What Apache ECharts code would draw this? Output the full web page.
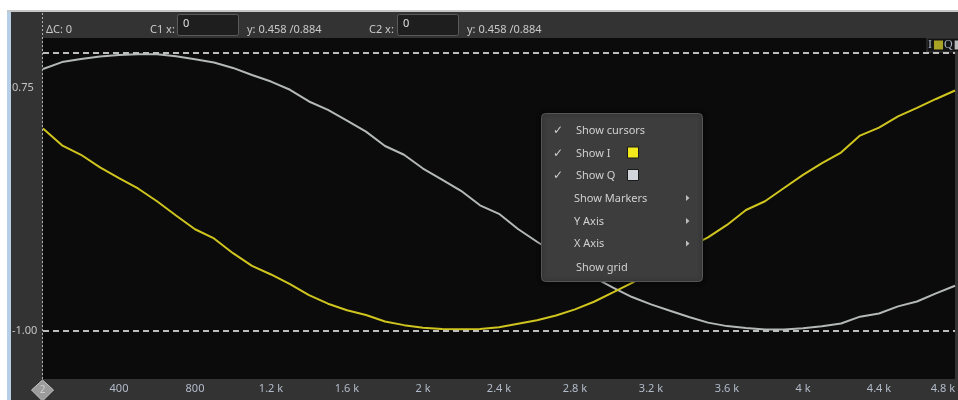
<!DOCTYPE html>
<html><head><meta charset="utf-8">
<script src="https://cdn.jsdelivr.net/npm/echarts@6/dist/echarts.min.js"></script>
<style>html,body{margin:0;padding:0;background:#fff;overflow:hidden}#c{width:958px;height:400px;}</style>
</head><body><div id="c"></div>
<script>
// ---- data ----
const sampleX = [0,100,200,300,400,500,600,700,800,900,1000,1100,1200,1300,1400,1500,1600,1700,1800,1900,2000,2100,2200,2300,2400,2500,2600,2700,2800,2900,3000,3100,3200,3300,3400,3500,3600,3700,3800,3900,4000,4100,4200,4300,4400,4500,4600,4700,4800];
const iValues = [0.455,0.334,0.266,0.176,0.099,0.024,-0.068,-0.170,-0.269,-0.335,-0.441,-0.532,-0.594,-0.663,-0.742,-0.804,-0.851,-0.885,-0.932,-0.958,-0.977,-0.986,-0.988,-0.986,-0.973,-0.948,-0.923,-0.889,-0.845,-0.790,-0.723,-0.655,-0.576,-0.490,-0.397,-0.328,-0.238,-0.131,-0.068,0.027,0.122,0.206,0.282,0.404,0.461,0.542,0.603,0.667,0.728];
const qValues = [0.882,0.932,0.954,0.972,0.983,0.988,0.988,0.974,0.953,0.929,0.890,0.839,0.792,0.733,0.649,0.588,0.512,0.432,0.329,0.266,0.167,0.088,0.007,-0.097,-0.158,-0.267,-0.359,-0.444,-0.529,-0.614,-0.688,-0.756,-0.809,-0.855,-0.900,-0.940,-0.965,-0.978,-0.989,-0.990,-0.981,-0.966,-0.946,-0.897,-0.874,-0.823,-0.788,-0.730,-0.675];
const seriesNames = ['I', 'Q'];
const xTickStep = 400;
const xMin = 0, xMax = 4800;
const yMin = -1.345, yMax = 1.105;
const yLabelValues = [0.75, -1.00];
const limitLines = [1, -1];
const cursorX = 0;
const headerTexts = { delta: 'ΔC: 0', c1: 'C1 x:', c2: 'C2 x:', c1Val: '0', c2Val: '0', c1Y: 'y: 0.458 /0.884', c2Y: 'y: 0.458 /0.884' };
const menuItems = [
  { text: 'Show cursors', check: true },
  { text: 'Show I', check: true, swatch: '#f2ea1c' },
  { text: 'Show Q', check: true, swatch: '#d2d6da' },
  { text: 'Show Markers', sub: true },
  { text: 'Y Axis', sub: true },
  { text: 'X Axis', sub: true },
  { text: 'Show grid' }
];

// ---- chart ----
const FONT = '"Segoe UI","Noto Sans","DejaVu Sans",sans-serif';
const chart = echarts.init(document.getElementById('c'), null, { renderer: 'canvas' });
const pairs = vals => sampleX.map((x, k) => [x, vals[k]]);

function fmtX(v) { return v >= 1000 ? (v / 1000) + ' k' : String(v); }

function staticGraphics() {
  const g = [];
  g.push({ type: 'rect', shape: { x: 0, y: 0, width: 958, height: 10 }, style: { fill: '#ffffff' } });
  g.push({ type: 'rect', shape: { x: 0, y: 0, width: 7, height: 400 }, style: { fill: '#ffffff' } });
  g.push({ type: 'rect', shape: { x: 7, y: 10, width: 951, height: 2 }, style: { fill: '#c6c6c6' } });
  g.push({ type: 'rect', shape: { x: 7, y: 12, width: 4, height: 388 }, style: { fill: '#b7cfe6' } });
  const txt = (t, x, y, z, extra) => ({ type: 'text', z: z, style: Object.assign({ text: t, x: x, y: y, fill: '#c9c9c9', font: '11px ' + FONT, verticalAlign: 'middle' }, extra || {}) });
  g.push(txt(headerTexts.delta, 46, 30, 50));
  g.push(txt(headerTexts.c1, 150, 30, 50));
  g.push({ type: 'rect', z: 50, shape: { x: 177.5, y: 14.5, width: 61, height: 21, r: 2 }, style: { fill: '#1e1e1e', stroke: '#5a5a5a', lineWidth: 1 } });
  g.push(txt(headerTexts.c1Val, 183, 23.5, 51, { fill: '#e0e0e0' }));
  g.push(txt(headerTexts.c1Y, 247, 30, 50));
  g.push(txt(headerTexts.c2, 369, 30, 50));
  g.push({ type: 'rect', z: 50, shape: { x: 397.5, y: 14.5, width: 61, height: 21, r: 2 }, style: { fill: '#1e1e1e', stroke: '#5a5a5a', lineWidth: 1 } });
  g.push(txt(headerTexts.c2Val, 403, 23.5, 51, { fill: '#e0e0e0' }));
  g.push(txt(headerTexts.c2Y, 467, 30, 50));
  // context menu
  const mx = 541, my = 113, mw = 161, mh = 168;
  g.push({ type: 'rect', z: 100, shape: { x: mx + 0.5, y: my + 0.5, width: mw, height: mh, r: 4 }, style: { fill: '#3d3d3d', stroke: '#555555', lineWidth: 1, shadowBlur: 4, shadowColor: 'rgba(0,0,0,0.5)' } });
  const rowY = [131, 153.5, 176, 198.5, 221.5, 244, 267.5];
  menuItems.forEach((it, k) => {
    const y = rowY[k];
    if (it.check) g.push(txt('✓', 553, y, 102, { font: '12px "DejaVu Sans",sans-serif', fill: '#d0d0d0' }));
    g.push(txt(it.text, it.sub ? 574 : 576, y, 101, { fill: '#d0d0d0' }));
    if (it.swatch) g.push({ type: 'rect', z: 101, shape: { x: 627.5, y: y - 6.5, width: 11, height: 11 }, style: { fill: it.swatch, stroke: '#1a1a1a', lineWidth: 1 } });
    if (it.sub) g.push({ type: 'polygon', z: 101, shape: { points: [[686, y - 3.5], [689.5, y - 0.5], [686, y + 2.5]] }, style: { fill: '#bdbdbd' } });
  });
  return g;
}

const option = {
  animation: false,
  backgroundColor: '#333333',
  textStyle: { fontFamily: FONT },
  grid: { left: 43, right: 0, top: 38, bottom: 21, show: true, backgroundColor: '#0b0b0b', borderWidth: 0 },
  legend: {
    data: [{ name: seriesNames[0], itemStyle: { color: '#aaa224' } }, { name: seriesNames[1], itemStyle: { color: '#b8bcbc' } }],
    left: 927, top: 38, width: 80, orient: 'horizontal', align: 'right', icon: 'rect', itemWidth: 9, itemHeight: 9, itemGap: 1,
    selectedMode: false, padding: [1, 1], backgroundColor: '#141414', borderColor: '#3a3a3a', borderWidth: 1,
    textStyle: { color: '#a9b2c4', fontFamily: '"Liberation Serif","DejaVu Serif",serif', fontSize: 12, padding: [0, -3, 0, 0] }
  },
  xAxis: {
    type: 'value', min: xMin, max: xMax, interval: xTickStep,
    axisLine: { show: false }, axisTick: { show: false }, splitLine: { show: false },
    axisLabel: { color: '#b3bccb', fontSize: 11, fontFamily: FONT, margin: 4, showMinLabel: false, alignMaxLabel: 'right', formatter: fmtX }
  },
  yAxis: {
    type: 'value', min: yMin, max: yMax,
    axisLine: { show: false }, axisTick: { show: false }, splitLine: { show: false },
    axisLabel: { customValues: yLabelValues, color: '#c3c3c3', fontSize: 11, fontFamily: FONT, align: 'left', margin: 31, formatter: v => v.toFixed(2) }
  },
  series: [
    {
      name: seriesNames[1], type: 'line', data: pairs(qValues), showSymbol: false, symbol: 'none', z: 3,
      lineStyle: { color: '#b4b8b8', width: 2 }, itemStyle: { color: '#b8bcbc' }
    },
    {
      name: seriesNames[0], type: 'line', data: pairs(iValues), showSymbol: false, symbol: 'none', z: 4,
      lineStyle: { color: '#cfc51e', width: 2 }, itemStyle: { color: '#cfc51e' },
      markLine: {
        silent: true, symbol: 'none', label: { show: false },
        lineStyle: { color: '#bdbdbd', type: [6, 4], width: 2 },
        data: limitLines.map(v => ({ yAxis: v }))
      }
    }
  ],
  graphic: staticGraphics()
};
chart.setOption(option);

// cursor line and handle at cursorX
const cx = Math.round(chart.convertToPixel({ xAxisIndex: 0 }, cursorX)) - 0.5;
const cyBottom = chart.convertToPixel({ yAxisIndex: 0 }, yMin);
const g2 = staticGraphics();
g2.push({ type: 'line', z: 60, shape: { x1: cx, y1: 13, x2: cx, y2: cyBottom }, style: { stroke: '#b0b0b0', lineWidth: 1, lineDash: [2, 2] } });
g2.push({ type: 'polygon', z: 60, shape: { points: [[cx, cyBottom + 1], [cx + 11, cyBottom + 11], [cx, cyBottom + 22], [cx - 11, cyBottom + 11]] }, style: { fill: '#9c9c9c', stroke: '#c4c4c4', lineWidth: 1 } });
g2.push({ type: 'text', z: 61, style: { text: '2', x: cx, y: cyBottom + 11, align: 'center', verticalAlign: 'middle', fill: '#cfcfcf', font: '10px ' + FONT } });
chart.setOption({ graphic: g2 });
</script>
</body></html>
